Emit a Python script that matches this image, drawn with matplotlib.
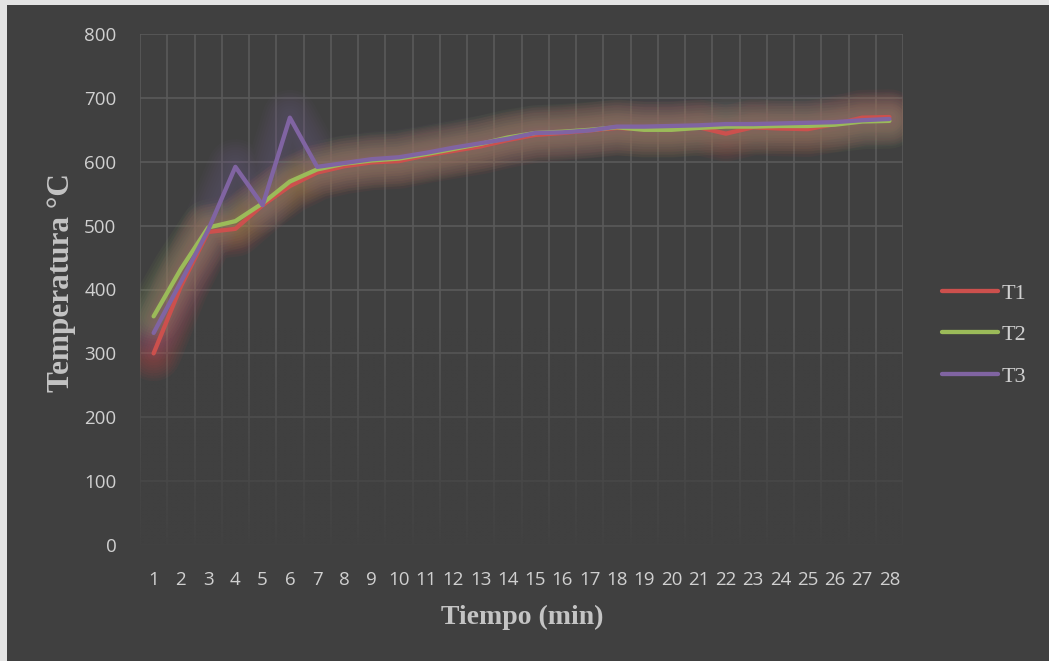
import numpy as np
import matplotlib
matplotlib.use('Agg')
import matplotlib.pyplot as plt
from matplotlib.patches import Rectangle
from matplotlib.colors import to_rgb

# tiempo en minutos y temperaturas de los tres termopares
tiempo = list(range(1, 29))
t1 = [300, 405, 490, 495, 532, 562, 583, 593, 599, 601, 610, 617, 624, 634,
      642, 645, 649, 653, 651, 651, 654, 644, 654, 652, 651, 659, 669, 670]
t2 = [358, 432, 497, 507, 535, 569, 588, 597, 602, 605, 612, 620, 628, 638,
      645, 647, 650, 654, 650, 650, 653, 655, 655, 656, 656, 658, 663, 664]
t3 = [332, 412, 493, 592, 532, 669, 592, 598, 604, 607, 614, 622, 629, 636,
      645, 646, 649, 655, 655, 656, 657, 659, 659, 660, 661, 662, 665, 667]
series = [('T1', t1, '#cc504d'), ('T2', t2, '#9bbb59'), ('T3', t3, '#8064a2')]
brillo = {'T1': 0.06, 'T2': 0.05, 'T3': 0.035}
yticks = list(range(0, 801, 100))

fondo = '#404040'
texto = '#d0d0d0'
titulo = '#c4c4c4'

fig = plt.figure(figsize=(10.49, 6.61), dpi=100, facecolor='#e4e4e4')
fig.patches.append(Rectangle((7 / 1049, 0), 1, 1 - 5 / 661, transform=fig.transFigure,
                             facecolor=fondo, edgecolor='none', zorder=-10))
ax = fig.add_axes([140 / 1049, 1 - 545 / 661, (903 - 140) / 1049, (545 - 34) / 661])
ax.set_facecolor(fondo)

# cuadricula entre categorias
ax.set_xticks(np.arange(0.5, 29, 1), minor=True)
ax.grid(True, which='minor', axis='x', color='#5a5a5a', lw=1.2)
ax.grid(True, which='major', axis='y', color='#5a5a5a', lw=1.2)
ax.set_axisbelow(True)

# la cuadricula se desvanece hacia abajo (fila 0 arriba, transparente)
grad = np.zeros((200, 2, 4))
grad[..., :3] = to_rgb(fondo)
grad[..., 3] = np.linspace(0, 0.92, 200)[:, None] ** 0.8
ax.imshow(grad, extent=(0.5, 28.5, 0, 340), aspect='auto', zorder=0.8,
          interpolation='bilinear')

for nombre, vals, col in series:
    # brillo alrededor de cada linea
    for w in np.linspace(40, 6, 10):
        ax.plot(tiempo, vals, color=col, lw=w, alpha=brillo[nombre],
                solid_capstyle='round', solid_joinstyle='round', zorder=1.5)
for nombre, vals, col in series:
    ax.plot(tiempo, vals, color=col, lw=3.1, label=nombre, solid_capstyle='round',
            solid_joinstyle='round', zorder=3)

ax.set_xlim(0.5, 28.5)
ax.set_ylim(0, 800)
ax.set_xticks(tiempo)
ax.set_yticks(yticks)
ax.tick_params(which='both', length=0)
ax.tick_params(axis='y', pad=17, labelsize=13.5, labelcolor=texto)
ax.tick_params(axis='x', pad=19, labelsize=13.5, labelcolor=texto)
for lab in ax.get_xticklabels() + ax.get_yticklabels():
    lab.set_family('Open Sans')
for s in ax.spines.values():
    s.set_visible(False)

fig.text(522 / 1049, 1 - 617 / 661, 'Tiempo (min)', family='Liberation Serif',
         fontweight='bold', fontsize=20, color=titulo, ha='center', va='center')
fig.text(62 / 1049, 1 - 283 / 661, 'Temperatura °C', family='Liberation Serif',
         fontweight='bold', fontsize=22.5, color=titulo, ha='center', va='center',
         rotation=90)

handles, labels = ax.get_legend_handles_labels()
leg = fig.legend(handles, labels, loc='center left', bbox_to_anchor=(942 / 1049, 1 - 335 / 661),
                 frameon=False, borderpad=0, borderaxespad=0, handlelength=2.5,
                 handletextpad=0.2, labelspacing=0.95,
                 prop={'family': 'Liberation Serif', 'size': 16})
for t in leg.get_texts():
    t.set_color(texto)

fig.savefig('out.png', dpi=100, facecolor=fig.get_facecolor())
